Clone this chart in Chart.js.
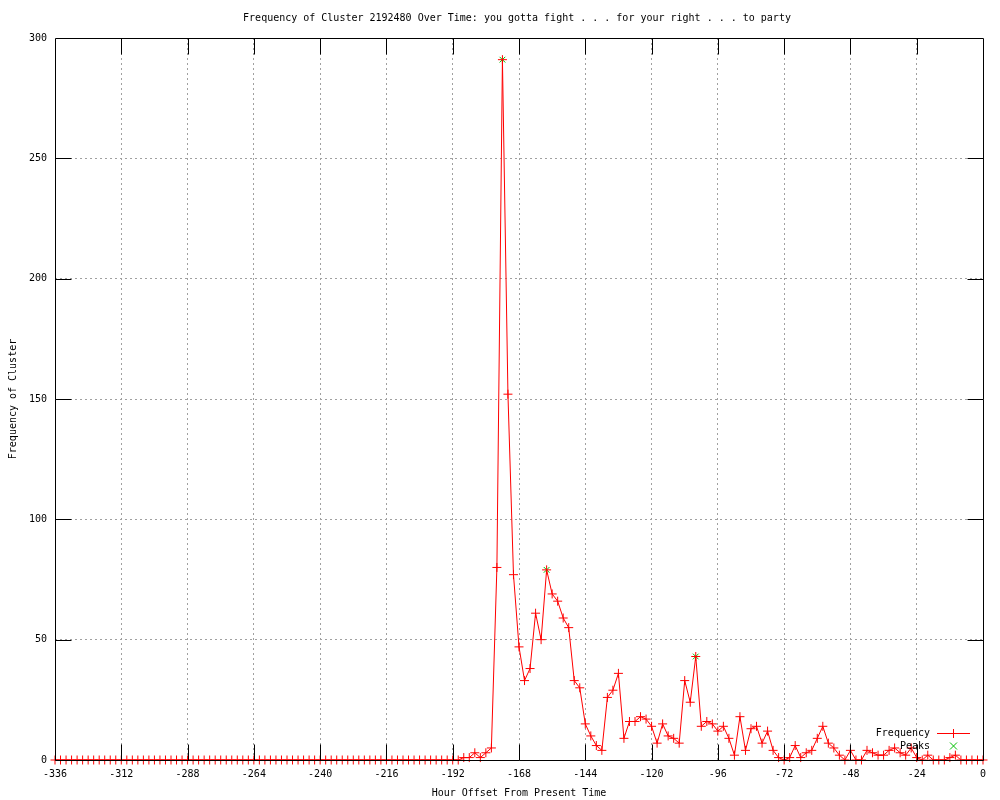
<!DOCTYPE html>
<html>
<head>
<meta charset="utf-8">
<script src="https://cdn.jsdelivr.net/npm/chart.js@4/dist/chart.umd.min.js"></script>
<style>
  html, body { margin: 0; padding: 0; background: #fff; }
  #wrap { width: 1000px; height: 800px; }
</style>
</head>
<body>
<div id="wrap"><canvas id="freqChart"></canvas></div>
<script>
// Frequency per 2-hour bucket, from -336 h to 0 h (one row = 24 h)
const freq = [
    0, 0, 0, 0, 0, 0, 0, 0, 0, 0, 0, 0,        // -336
    0, 0, 0, 0, 0, 0, 0, 0, 0, 0, 0, 0,        // -312
    0, 0, 0, 0, 0, 0, 0, 0, 0, 0, 0, 0,        // -288
    0, 0, 0, 0, 0, 0, 0, 0, 0, 0, 0, 0,        // -264
    0, 0, 0, 0, 0, 0, 0, 0, 0, 0, 0, 0,        // -240
    0, 0, 0, 0, 0, 0, 0, 0, 0, 0, 0, 0,        // -216
    0, 0, 1, 1, 3, 1, 3, 5, 80, 291, 152, 77,  // -192
    47, 33, 38, 61, 50, 79, 69, 66, 59, 55, 33, 30, // -168
    15, 10, 6, 4, 26, 29, 36, 9, 16, 16, 18, 17,    // -144
    14, 7, 15, 10, 9, 7, 33, 24, 43, 14, 16, 15,    // -120
    12, 14, 9, 2, 18, 4, 13, 14, 7, 12, 4, 1,       // -96
    0, 1, 6, 1, 3, 4, 9, 14, 7, 5, 2, 0,            // -72
    4, 0, 0, 4, 3, 2, 2, 4, 5, 3, 2, 5,             // -48
    1, 0, 2, 0, 0, 0, 1, 2, 0, 0, 0, 0,             // -24
    0                                               // 0
];
const FIRST_HOUR = -336;
const STEP_HOURS = 2;
const hours = freq.map((_, i) => FIRST_HOUR + i * STEP_HOURS);

const peakHours = [-174, -158, -104];
const peakValues = [291, 79, 43];

const xTicks = [-336, -312, -288, -264, -240, -216, -192, -168, -144, -120, -96, -72, -48, -24, 0];
const yTicks = [0, 50, 100, 150, 200, 250, 300];

const TITLE = 'Frequency of Cluster 2192480 Over Time: you gotta fight . . . for your right . . . to party';
const X_TITLE = 'Hour Offset From Present Time';
const Y_TITLE = 'Frequency of Cluster';

const FAMILY = '"DejaVu Sans Mono", "Liberation Mono", monospace';
const FONT = '10px ' + FAMILY;
const RED = '#ff0000';
const GREEN = '#00c000';
const TIC = 16;

// cadre, graduations, légende et titres façon gnuplot
const gnuplotLook = {
    id: 'gnuplotLook',
    beforeDraw(chart) {
        const c = chart.ctx;
        c.save();
        c.fillStyle = '#fff';
        c.fillRect(0, 0, chart.width, chart.height);
        c.restore();
    },
    afterDatasetsDraw(chart) {
        const c = chart.ctx;
        const a = chart.chartArea;
        const xs = chart.scales.x, ys = chart.scales.y;
        const L = Math.round(a.left) + 0.5, R = Math.round(a.right) + 0.5;
        const T = Math.round(a.top) + 0.5, B = Math.round(a.bottom) + 0.5;
        c.save();
        c.setLineDash([]);
        c.strokeStyle = '#000';
        c.lineWidth = 1;
        c.beginPath();
        c.rect(L, T, R - L, B - T);
        xTicks.slice(1, -1).forEach(v => {
            const px = Math.round(xs.getPixelForValue(v)) + 0.5;
            c.moveTo(px, B); c.lineTo(px, B - TIC);
            c.moveTo(px, T); c.lineTo(px, T + TIC);
        });
        yTicks.slice(1, -1).forEach(v => {
            const py = Math.round(ys.getPixelForValue(v)) + 0.5;
            c.moveTo(L, py); c.lineTo(L + TIC, py);
            c.moveTo(R, py); c.lineTo(R - TIC, py);
        });
        c.stroke();
        c.restore();
    },
    afterDraw(chart) {
        const c = chart.ctx;
        const a = chart.chartArea;

        // légende en bas à droite
        c.save();
        c.font = FONT;
        c.fillStyle = '#000';
        c.textAlign = 'right';
        c.textBaseline = 'middle';
        c.fillText('Frequency', 930, 733);
        c.fillText('Peaks', 930, 746);
        c.fillStyle = RED;
        c.fillRect(937, 733, 33, 1);
        c.fillRect(953, 729, 1, 9);
        c.restore();
        c.save();
        c.setLineDash([]);
        c.lineWidth = 1;
        c.strokeStyle = GREEN;
        c.beginPath();
        c.moveTo(950, 742.5); c.lineTo(957, 749.5);
        c.moveTo(957, 742.5); c.lineTo(950, 749.5);
        c.stroke();
        c.restore();

        c.save();
        c.font = FONT;
        c.fillStyle = '#000';
        c.textAlign = 'center';
        c.textBaseline = 'middle';
        c.fillText(TITLE, 517, 18);
        c.fillText(X_TITLE, (a.left + a.right) / 2, 793);
        c.translate(13, (a.top + a.bottom) / 2);
        c.rotate(-Math.PI / 2);
        c.fillText(Y_TITLE, 0, 0);
        c.restore();
    }
};

const ctx = document.getElementById('freqChart').getContext('2d');
new Chart(ctx, {
    type: 'line',
    data: {
        datasets: [{
            label: 'Frequency',
            data: hours.map((h, i) => ({ x: h, y: freq[i] })),
            borderColor: RED,
            backgroundColor: RED,
            borderWidth: 1,
            pointStyle: 'cross',
            pointRadius: 4.5,
            pointBorderWidth: 1,
            pointBorderColor: RED,
            tension: 0,
            fill: false,
            clip: false
        }, {
            label: 'Peaks',
            data: peakHours.map((h, i) => ({ x: h, y: peakValues[i] })),
            showLine: false,
            pointStyle: 'crossRot',
            pointRadius: 4,
            pointBorderWidth: 1,
            pointBorderColor: GREEN,
            borderColor: GREEN,
            clip: false
        }]
    },
    options: {
        responsive: true,
        maintainAspectRatio: false,
        animation: false,
        events: [],
        layout: { padding: { top: 38, right: 17, left: 0, bottom: 0 } },
        plugins: {
            legend: { display: false },
            title: { display: false },
            tooltip: { enabled: false }
        },
        scales: {
            x: {
                type: 'linear',
                min: -336,
                max: 0,
                afterBuildTicks: s => { s.ticks = xTicks.map(v => ({ value: v })); },
                afterFit: s => { s.height = 40; },
                ticks: {
                    color: '#000',
                    font: { family: FAMILY, size: 10 },
                    padding: 8,
                    maxRotation: 0,
                    autoSkip: false,
                    callback: v => String(v)
                },
                grid: {
                    drawTicks: false,
                    color: c => (c.tick && (c.tick.value === -336 || c.tick.value === 0)) ? 'rgba(0,0,0,0)' : '#a0a0a0',
                    lineWidth: 1
                },
                border: { display: false, dash: [2, 3] }
            },
            y: {
                type: 'linear',
                min: 0,
                max: 300,
                afterBuildTicks: s => { s.ticks = yTicks.map(v => ({ value: v })); },
                afterFit: s => { s.width = 55; },
                ticks: {
                    color: '#000',
                    font: { family: FAMILY, size: 10 },
                    padding: 8,
                    callback: v => String(v)
                },
                grid: {
                    drawTicks: false,
                    color: c => (c.tick && (c.tick.value === 0 || c.tick.value === 300)) ? 'rgba(0,0,0,0)' : '#a0a0a0',
                    lineWidth: 1
                },
                border: { display: false, dash: [2, 3] }
            }
        }
    },
    plugins: [gnuplotLook]
});
</script>
</body>
</html>
